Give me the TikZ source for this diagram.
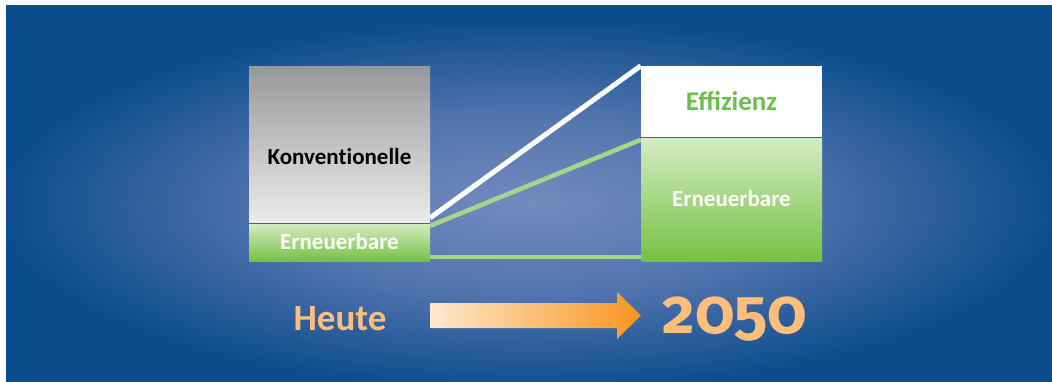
\documentclass[tikz,border=0pt]{standalone}
\usepackage{fontspec}
\setmainfont{Carlito}
\newfontfamily\jahrfont{Fira Sans}[Numbers=OldStyle]
\usetikzlibrary{backgrounds}
\definecolor{bgdark}{RGB}{10,76,140}
\definecolor{glowin}{RGB}{116,138,190}
\definecolor{glowmid}{RGB}{82,116,174}
\definecolor{greytop}{RGB}{150,151,153}
\definecolor{greybot}{RGB}{236,236,237}
\definecolor{greentop}{RGB}{214,236,196}
\definecolor{greenbot}{RGB}{118,192,67}
\definecolor{greenline}{RGB}{166,213,138}
\definecolor{efftext}{RGB}{109,190,75}
\definecolor{heutetext}{RGB}{252,190,122}
\definecolor{arrowleft}{RGB}{254,233,207}
\definecolor{arrowright}{RGB}{247,148,30}
\definecolor{divider}{RGB}{60,100,170}
\pgfdeclareradialshading{glow}{\pgfpoint{0bp}{0bp}}{color(0bp)=(glowin); color(10bp)=(glowmid); color(21bp)=(bgdark); color(50bp)=(bgdark)}
\begin{document}
\begin{tikzpicture}[x=1pt,y=-1pt]
  \tikzstyle{bar}=[rectangle,inner sep=0pt,minimum width=181pt]
  \tikzstyle{greenbar}=[bar,top color=greentop,bottom color=greenbot]
  \tikzstyle{bartext}=[font=\bfseries\fontsize{23}{23}\selectfont]
  \tikzstyle{bigtext}=[text=heutetext,anchor=base,inner sep=0pt]
  \tikzstyle{trend}=[line width=4.5pt]
  \useasboundingbox (0,0) rectangle (1052,381);
  \begin{scope}
    \node [bar,minimum height=157pt,top color=greytop,bottom color=greybot] (konv) at (339.5,144.5) {};
    \node [greenbar,minimum height=38pt] (erneuL) at (339.5,242) {};
    \node [bar,minimum height=71pt,fill=white] (eff) at (731.5,101.5) {};
    \node [greenbar,minimum height=124pt] (erneuR) at (731.5,199) {};
    \draw[divider,line width=0.8pt] (konv.south west) -- (konv.south east);
    \draw[divider,line width=0.8pt] (eff.south west) -- (eff.south east);
    \node [text=black,font={\bfseries\fontsize{23}{23}\selectfont\addfontfeatures{Ligatures=NoCommon}}] (konvtext) at ([yshift=-12.5pt]konv.center) {Konventionelle};
    \node [bartext,text=white] (erneuLtext) at (erneuL.center) {Erneuerbare};
    \node [text=efftext,font=\bfseries\fontsize{27}{27}\selectfont] (efftext) at (eff.center) {Effizienz};
    \node [bartext,text=white] (erneuRtext) at (erneuR.center) {Erneuerbare};
  \end{scope}
  \begin{scope}[on background layer]
    \fill[white] (0,0) rectangle (1052,381);
    \begin{scope}
      \clip (6,5) rectangle (1052,381);
      \fill[bgdark] (6,5) rectangle (1052,381);
      \shade[shading=glow] (-110,-20) rectangle (1170,430);
    \end{scope}
    \draw[trend,white,line width=5pt] ([yshift=5pt]erneuL.north east) -- (eff.north west);
    \draw[trend,greenline] ([yshift=-3pt]erneuL.north east) -- ([yshift=-3pt]erneuR.north west);
    \draw[trend,greenline] ([yshift=4pt]erneuL.south east) -- ([yshift=4pt]erneuR.south west);
  \end{scope}
  \node [bigtext,font=\bfseries\fontsize{37}{37}\selectfont] (heute) at (340,330) {Heute};
  \shade[left color=arrowleft,right color=arrowright] (430,303) -- (617,303) -- (617,292) -- (641,315.5) -- (617,339) -- (617,328) -- (430,328) -- cycle;
  \node [bigtext,font=\jahrfont\bfseries\fontsize{63}{63}\selectfont] (jahr) at (735,333) {2050};
\end{tikzpicture}
\end{document}
